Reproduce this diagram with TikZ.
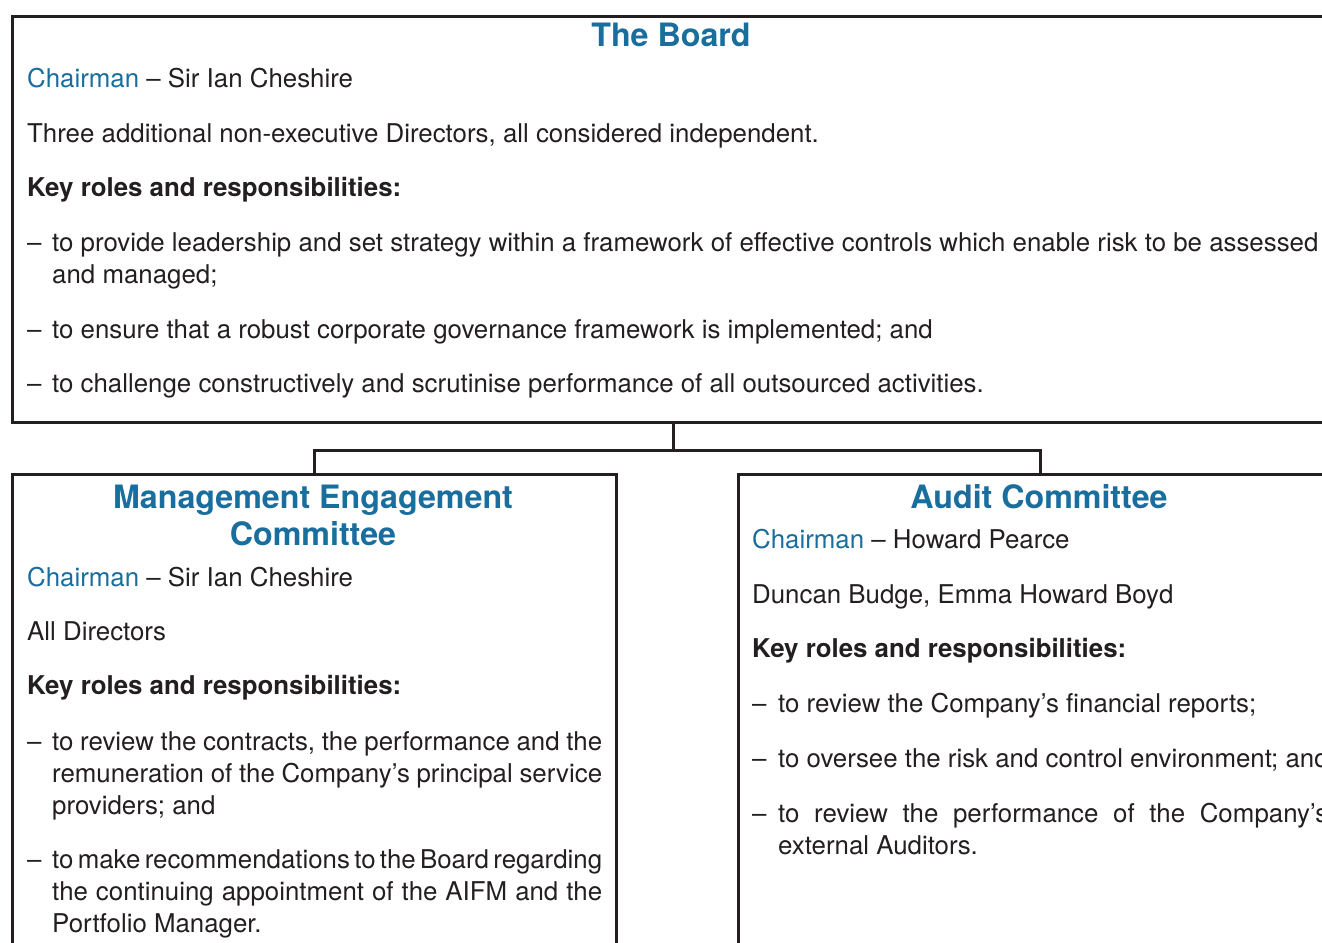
\documentclass[tikz,border=0pt]{standalone}
\usepackage{fontspec}
\setmainfont{TeX Gyre Heros}
\definecolor{hblue}{HTML}{1A6E9E}
\definecolor{ink}{HTML}{231F20}
\newcommand{\bodyfont}{\fontsize{25.85}{32}\selectfont}
\newcommand{\headfont}{\fontsize{32.2}{37}\selectfont\bfseries}
\tikzset{
  boxst/.style={draw=ink, line width=2.8pt, rectangle, inner sep=0pt, anchor=north west},
  txt/.style={anchor=base west, inner sep=0pt, text=ink, font=\bodyfont},
  head/.style={anchor=base, inner sep=0pt, text=hblue, font=\headfont, align=center},
  link/.style={draw=ink, line width=2.8pt},
}
\newcommand{\ch}{\textcolor{hblue}{Chairman} -- }
\newcommand{\jl}[1]{\makebox[550pt][s]{\spaceskip=.28em plus 1em minus .15em #1}}
\begin{document}
\begin{tikzpicture}[x=1pt,y=-1pt]
\useasboundingbox (0,0) rectangle (1322,942);
\clip (0,0) rectangle (1322,942);
% boxes
\node[boxst, minimum width=1322pt, minimum height=406pt] (board) at (11,15) {};
\node[boxst, minimum width=604pt, minimum height=520pt] (mec) at (11,473) {};
\node[boxst, minimum width=604pt, minimum height=520pt] (audit) at (737,473) {};
% connectors
\draw[link] (board.south) -- ++(0,27) coordinate (j);
\draw[link] (mec.north) |- (j) -| (audit.north);
% Board text
\node[head] (bt) at (671,47) {The Board};
\node[txt] (b1) at (27,88) {\ch Sir Ian Cheshire};
\node[txt] (b2) at (27,142) {Three additional non-executive Directors, all considered independent.};
\node[txt] (b3) at (27,196) {\bfseries Key roles and responsibilities:};
\node[txt] (b4d) at (27,251) {--};
\node[txt] (b4) at (52,251) {to provide leadership and set strategy within a framework of effective controls which enable risk to be assessed};
\node[txt] (b4b) at (52,283) {and managed;};
\node[txt] (b5d) at (27,338) {--};
\node[txt] (b5) at (52,338) {to ensure that a robust corporate governance framework is implemented; and};
\node[txt] (b6d) at (27,392) {--};
\node[txt] (b6) at (52,392) {to challenge constructively and scrutinise performance of all outsourced activities.};
% MEC text
\node[head] (mt1) at (313,508) {Management Engagement};
\node[head] (mt2) at (313,545) {Committee};
\node[txt] (m1) at (27,586) {\ch Sir Ian Cheshire};
\node[txt] (m2) at (27,640) {All Directors};
\node[txt] (m3) at (27,694) {\bfseries Key roles and responsibilities:};
\node[txt] (m4d) at (27,750) {--};
\node[txt] (m4a) at (52,750) {\jl{to review the contracts, the performance and the}};
\node[txt] (m4b) at (52,782) {\jl{remuneration of the Company’s principal service}};
\node[txt] (m4c) at (52,814) {providers; and};
\node[txt] (m5d) at (27,868) {--};
\node[txt] (m5a) at (52,868) {\jl{to make recommendations to the Board regarding}};
\node[txt] (m5b) at (52,900) {\jl{the continuing appointment of the AIFM and the}};
\node[txt] (m5c) at (52,932) {Portfolio Manager.};
% Audit text
\node[head] (at) at (1039,508) {Audit Committee};
\node[txt] (a1) at (752,548) {\ch Howard Pearce};
\node[txt] (a2) at (752,603) {Duncan Budge, Emma Howard Boyd};
\node[txt] (a3) at (752,657) {\bfseries Key roles and responsibilities:};
\node[txt] (a4d) at (752,712) {--};
\node[txt] (a4) at (778,712) {to review the Company’s financial reports;};
\node[txt] (a5d) at (752,767) {--};
\node[txt] (a5) at (778,767) {to oversee the risk and control environment; and};
\node[txt] (a6d) at (752,822) {--};
\node[txt] (a6a) at (778,822) {\jl{to review the performance of the Company’s}};
\node[txt] (a6b) at (778,854) {external Auditors.};
\end{tikzpicture}
\end{document}
